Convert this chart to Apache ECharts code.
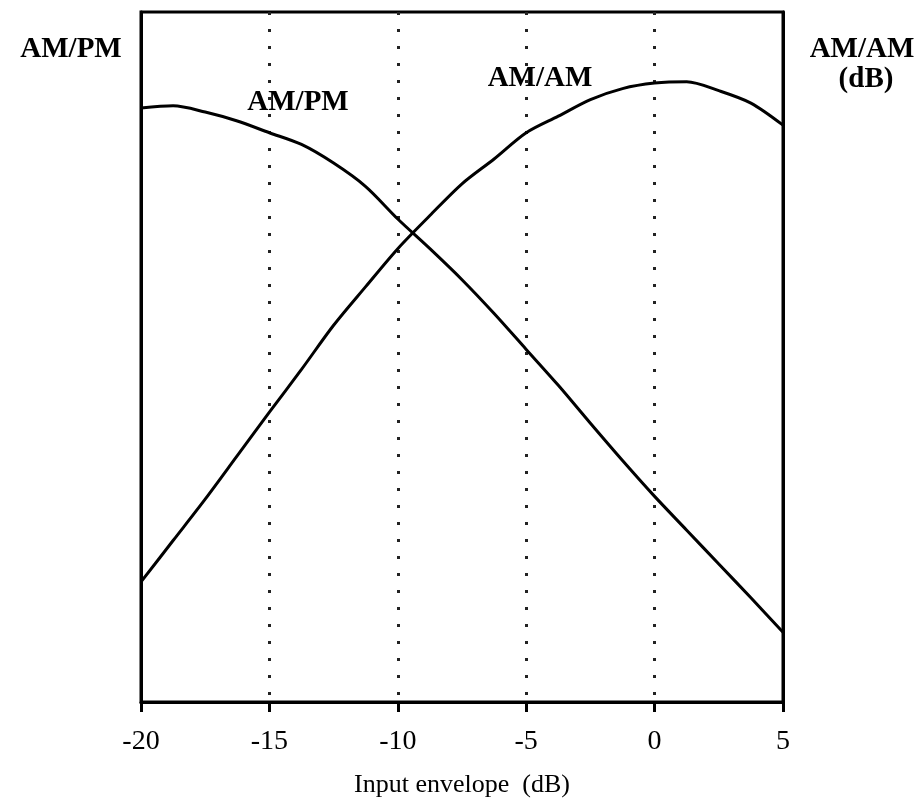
<!DOCTYPE html>
<html>
<head>
<meta charset="utf-8">
<script src="https://cdn.jsdelivr.net/npm/echarts@6/dist/echarts.min.js"></script>
<style>
  html, body { margin: 0; padding: 0; background: #fff; }
  #chart { width: 920px; height: 803px; }
</style>
</head>
<body>
<div id="chart"></div>
<script>
// input envelope (dB), read every 1.25 dB
const inputDb = [-20, -18.75, -17.5, -16.25, -15, -13.75, -12.5, -11.25, -10, -8.75, -7.5,
                 -6.25, -5, -3.75, -2.5, -1.25, 0, 1.25, 2.5, 3.75, 5];
// relative scale 0..100 (no y values printed on the original)
const amPm = [86.1, 86.4, 85.5, 84.2, 82.5, 80.8, 78.1, 74.7, 70.0, 65.7, 61.2,
              56.3, 51.1, 45.9, 40.4, 35.0, 29.8, 24.9, 20.0, 15.1, 10.1];
const amAm = [17.4, 23.4, 29.4, 35.7, 42.0, 48.2, 54.6, 60.2, 65.7, 70.5, 75.1,
              78.7, 82.5, 84.9, 87.3, 88.9, 89.7, 89.9, 88.6, 86.8, 83.6];
const xTicks = [-20, -15, -10, -5, 0, 5];

const serif = "'Liberation Serif', 'DejaVu Serif', serif";
const labelFont = "bold 29px " + serif;

const chart = echarts.init(document.getElementById("chart"));

function pairs(ys) {
  return inputDb.map((x, i) => [x, ys[i]]);
}

function sideAxis(pos) {
  return {
    type: "value", min: 0, max: 100, position: pos,
    axisLine: { show: true, onZero: false, lineStyle: { color: "#000", width: 3 } },
    axisTick: { show: false }, axisLabel: { show: false }, splitLine: { show: false }
  };
}

chart.setOption({
  animation: false,
  backgroundColor: "#fff",
  grid: {
    left: 141, right: 137, top: 12, bottom: 100,
    show: true, borderColor: "#000", borderWidth: 3
  },
  xAxis: {
    type: "value",
    min: xTicks[0], max: xTicks[xTicks.length - 1], interval: 5,
    name: "Input envelope  (dB)",
    nameLocation: "middle",
    nameGap: 70,
    nameTextStyle: { fontFamily: serif, fontSize: 26, color: "#000" },
    axisLine: { show: true, onZero: false, lineStyle: { color: "#000", width: 3 } },
    axisTick: { show: true, inside: false, length: 10, lineStyle: { color: "#000", width: 3 } },
    axisLabel: { fontFamily: serif, fontSize: 28, color: "#000", margin: 26 },
    splitLine: { show: true, lineStyle: { color: "#222", width: 3, type: [3, 14] } }
  },
  yAxis: [sideAxis("left"), sideAxis("right")],
  series: [
    {
      name: "AM/PM", type: "line", yAxisIndex: 0, smooth: 0.3, symbol: "none",
      lineStyle: { color: "#000", width: 3 },
      data: pairs(amPm)
    },
    {
      name: "AM/AM", type: "line", yAxisIndex: 1, smooth: 0.3, symbol: "none",
      lineStyle: { color: "#000", width: 3 },
      data: pairs(amAm)
    }
  ],
  graphic: [
    { type: "text", x: 71, y: 50,
      style: { text: "AM/PM", font: labelFont, fill: "#000", align: "center", verticalAlign: "middle" } },
    { type: "text", x: 298, y: 103,
      style: { text: "AM/PM", font: labelFont, fill: "#000", align: "center", verticalAlign: "middle" } },
    { type: "text", x: 540, y: 79,
      style: { text: "AM/AM", font: labelFont, fill: "#000", align: "center", verticalAlign: "middle" } },
    { type: "text", x: 862, y: 50,
      style: { text: "AM/AM", font: labelFont, fill: "#000", align: "center", verticalAlign: "middle" } },
    { type: "text", x: 866, y: 80,
      style: { text: "(dB)", font: labelFont, fill: "#000", align: "center", verticalAlign: "middle" } }
  ]
});
</script>
</body>
</html>
